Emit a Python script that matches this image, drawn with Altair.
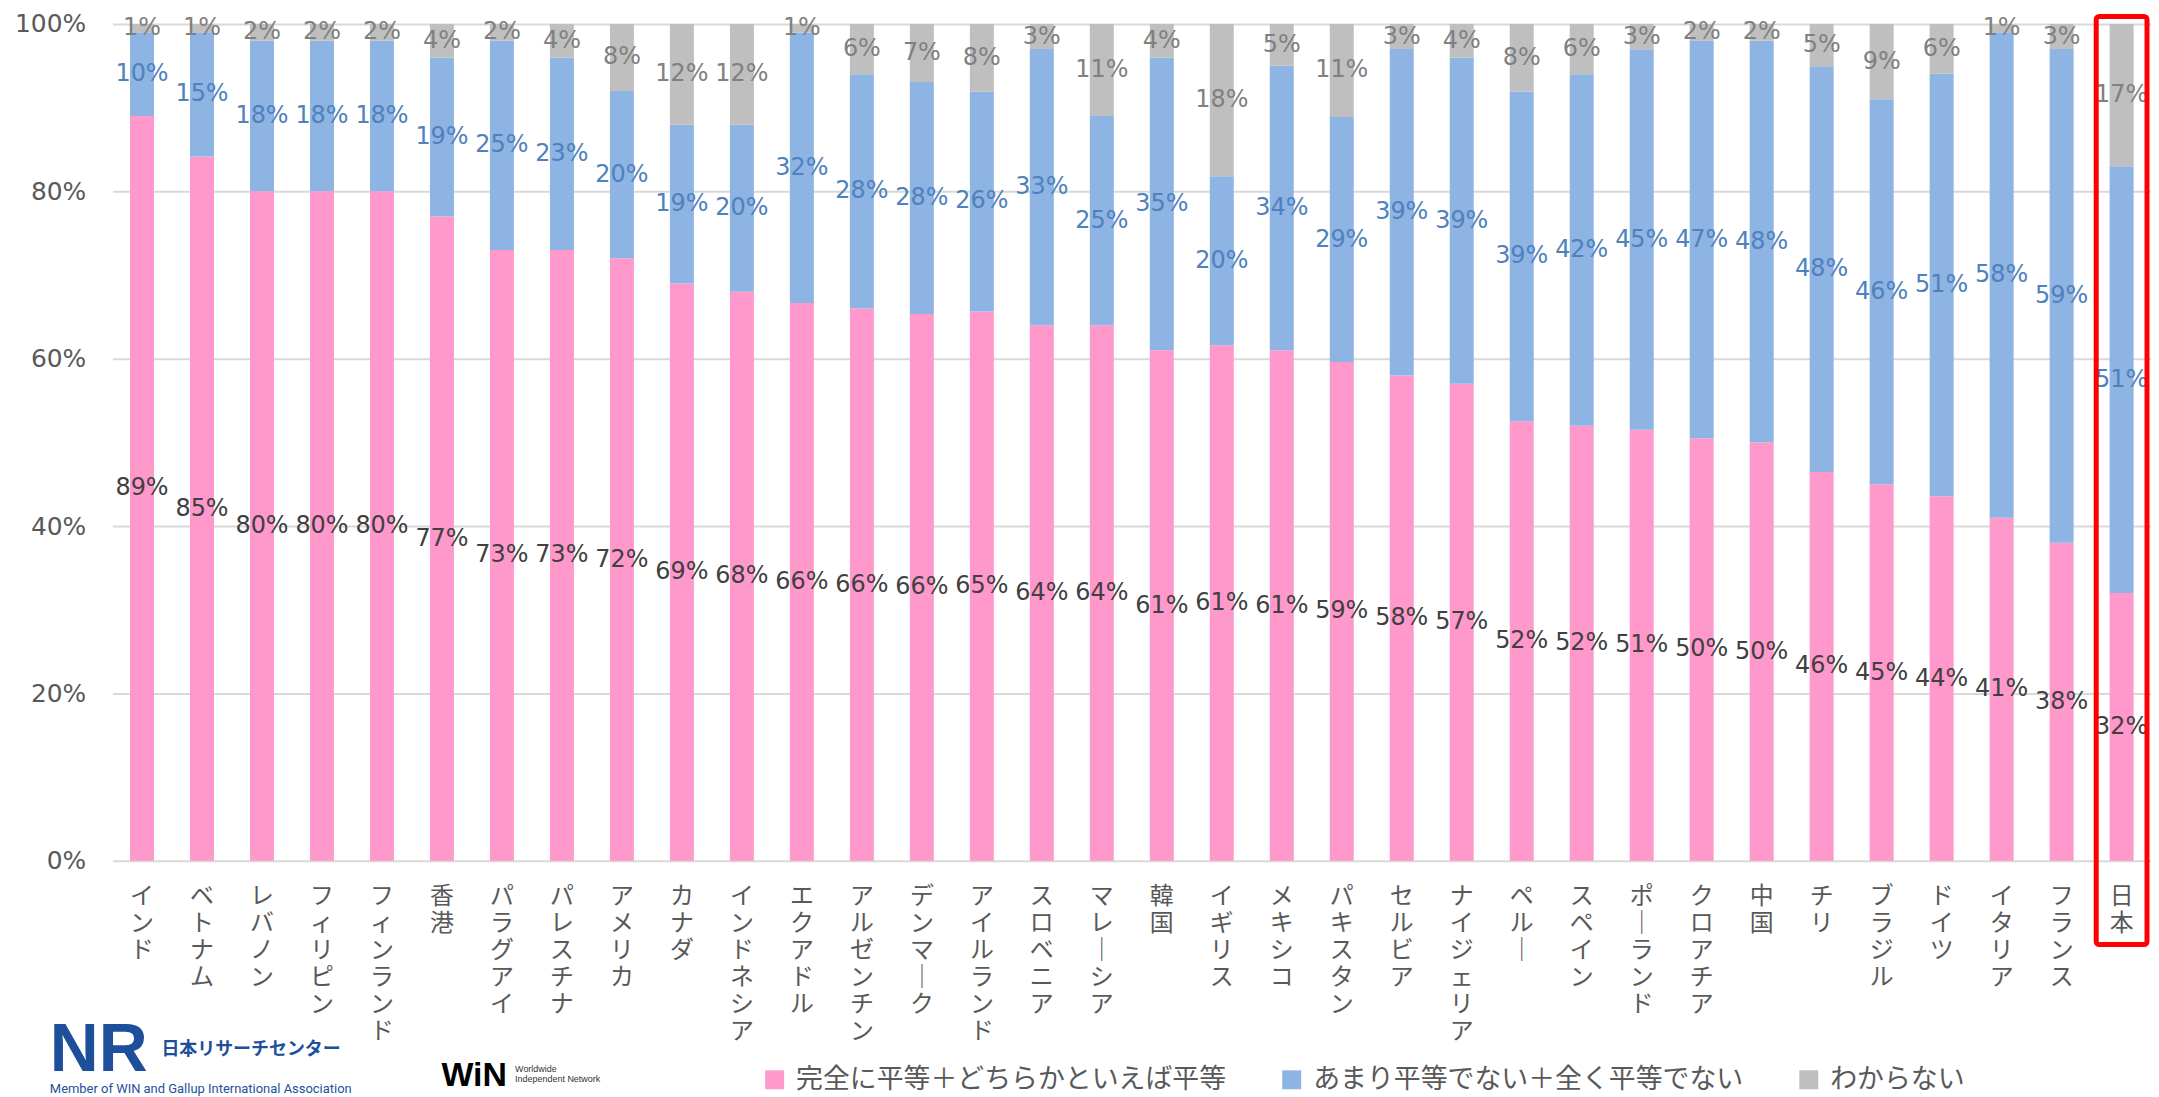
import altair as alt
import pandas as pd

countries = ["インド", "ベトナム", "レバノン", "フィリピン", "フィンランド", "香港", "パラグアイ",
             "パレスチナ", "アメリカ", "カナダ", "インドネシア", "エクアドル", "アルゼンチン", "デンマーク",
             "アイルランド", "スロベニア", "マレーシア", "韓国", "イギリス", "メキシコ", "パキスタン",
             "セルビア", "ナイジェリア", "ペルー", "スペイン", "ポーランド", "クロアチア", "中国", "チリ",
             "ブラジル", "ドイツ", "イタリア", "フランス", "日本"]
equal = [89, 85, 80, 80, 80, 77, 73, 73, 72, 69, 68, 66, 66, 66, 65, 64, 64, 61, 61, 61, 59, 58, 57,
         52, 52, 51, 50, 50, 46, 45, 44, 41, 38, 32]
unequal = [10, 15, 18, 18, 18, 19, 25, 23, 20, 19, 20, 32, 28, 28, 26, 33, 25, 35, 20, 34, 29, 39, 39,
           39, 42, 45, 47, 48, 48, 46, 51, 58, 59, 51]
unknown = [1, 1, 2, 2, 2, 4, 2, 4, 8, 12, 12, 1, 6, 7, 8, 3, 11, 4, 18, 5, 11, 3, 4, 8, 6, 3, 2, 2,
           5, 9, 6, 1, 3, 17]

series = ["完全に平等＋どちらかといえば平等", "あまり平等でない＋全く平等でない", "わからない"]
bar_colors = ["#FF99CC", "#8EB4E3", "#BFBFBF"]
label_colors = ["#404040", "#4F81BD", "#808080"]
highlight = "日本"

rows = []
for i, c in enumerate(countries):
    for k, vals in enumerate([equal, unequal, unknown]):
        rows.append({"country": c, "series": series[k], "order": k, "value": vals[i]})
df = pd.DataFrame(rows)

JP = "Noto Sans CJK JP"
NUM = "DejaVu Sans"
AX = "#595959"

base = alt.Chart(df).transform_stack(
    stack="value", groupby=["country"], as_=["y0", "y1"], offset="normalize",
    sort=[alt.SortField("order", order="ascending")]
).transform_calculate(mid="(datum.y0 + datum.y1) / 2", lbl="datum.value + '%'")

xscale = alt.Scale(paddingInner=0.6, paddingOuter=0.29)
xenc = alt.X("country:N", sort=countries, title=None, scale=xscale,
             axis=alt.Axis(labelExpr="split(replace(datum.label, 'ー', '｜'), '')",
                           labelAngle=0, labelFont=JP, labelFontSize=24, labelColor=AX,
                           labelLineHeight=27, labelPadding=24, labelBaseline="top",
                           ticks=False, domain=False, labelOverlap=False, grid=False))
yscale = alt.Scale(domain=[0, 1], nice=False)
yenc = alt.Y("y0:Q", scale=yscale, title=None,
             axis=alt.Axis(format="%", values=[0, 0.2, 0.4, 0.6, 0.8, 1.0], labelFont=NUM,
                           labelFontSize=25, labelColor=AX, labelPadding=27, ticks=False,
                           domain=False, grid=True, gridColor="#D9D9D9", gridWidth=2))

bars = base.mark_bar().encode(
    x=xenc, y=yenc, y2="y1:Q",
    color=alt.Color("series:N", scale=alt.Scale(domain=series, range=bar_colors),
                    legend=alt.Legend(orient="none", legendX=651, legendY=1046, direction="horizontal",
                                      title=None, symbolType="square", symbolSize=361,
                                      symbolStrokeWidth=0, labelFont=JP, labelFontSize=27,
                                      labelColor=AX, columnPadding=52, labelOffset=8, padding=0,
                                      labelLimit=800)),
)

texts = []
for s, col in zip(series, label_colors):
    texts.append(
        base.transform_filter(alt.datum.series == s).mark_text(
            font=NUM, fontSize=24, color=col, baseline="middle", align="center"
        ).encode(x=alt.X("country:N", sort=countries), y=alt.Y("mid:Q"), text="lbl:N")
    )

box = alt.Chart(pd.DataFrame({"country": [highlight]})).mark_rect(
    fillOpacity=0, stroke="#FF0000", strokeWidth=5, cornerRadius=3, width=51
).encode(x=alt.X("country:N", sort=countries), y=alt.datum(1.009), y2=alt.datum(-0.1))

def deco(txt, x, y, **kw):
    return alt.Chart(pd.DataFrame({"t": [txt]})).mark_text(**kw).encode(
        x=alt.value(x), y=alt.value(y), text="t:N")

logo = [
    deco("NR", -63, 1051, font="Liberation Sans", fontSize=68, fontWeight="bold",
         color="#1D4F9B", align="left", baseline="alphabetic"),
    deco("日本リサーチセンター", 49, 1030, font=JP, fontSize=18, fontWeight="bold",
         color="#1D4F9B", align="left", baseline="middle"),
    deco("Member of WIN and Gallup International Association", -63, 1073, font="Roboto",
         fontSize=13, color="#1D4F9B", align="left", baseline="alphabetic"),
    deco("WiN", 330, 1066, font="Liberation Sans", fontSize=34, fontWeight="bold",
         color="#000000", align="left", baseline="alphabetic"),
    deco("Worldwide", 404, 1052, font="Liberation Sans", fontSize=9, color="#333333",
         align="left", baseline="alphabetic"),
    deco("Independent Network", 404, 1062, font="Liberation Sans", fontSize=9, color="#333333",
         align="left", baseline="alphabetic"),
]

chart = alt.layer(bars, *texts, box, *logo).properties(
    width=2046, height=840,
    autosize=alt.AutoSizeParams(type="none"),
    padding={"left": 105, "top": 14, "right": 0, "bottom": 235},
).configure_view(stroke=None)

chart.save("out.html", embed_options={"renderer": "svg", "actions": False})
